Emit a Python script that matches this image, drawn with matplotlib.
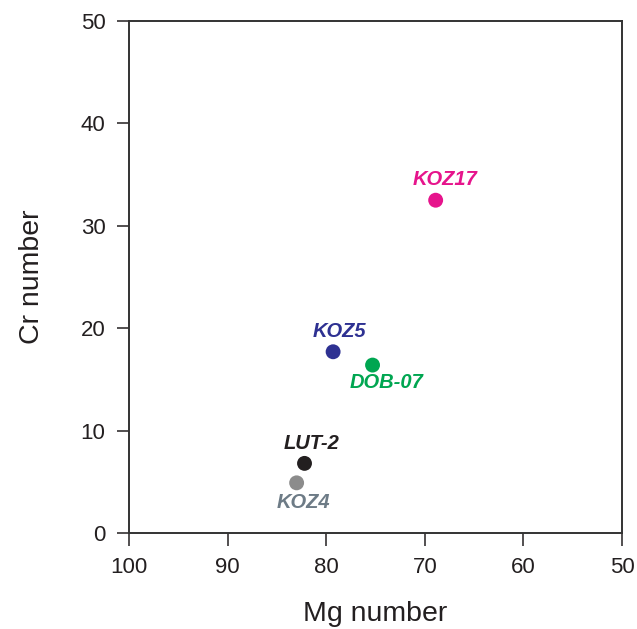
import matplotlib
matplotlib.use("Agg")
import matplotlib.pyplot as plt

plt.rcParams['font.family'] = ['Liberation Sans', 'DejaVu Sans']

# sample data
samples = ['KOZ17', 'KOZ5', 'DOB-07', 'LUT-2', 'KOZ4']
mg_number = [68.9, 79.3, 75.3, 82.2, 83.0]
cr_number = [32.5, 17.7, 16.4, 6.8, 4.9]
kleuren = ['#e6148c', '#2e3192', '#00a651', '#231f20', '#8c8c8c']
label_kleuren = ['#e6148c', '#2e3192', '#00a651', '#231f20', '#6d7b86']
# label offsets in points (dx, dy)
offsets = [(6.5, 15), (4.5, 14.5), (10, -12.5), (5, 14.5), (5, -14.5)]

fig = plt.figure(figsize=(6.37, 6.29), dpi=100)
ax = fig.add_axes([0.2025, 0.1526, 0.774, 0.814])

ax.scatter(mg_number, cr_number, s=115, c=kleuren, zorder=3, linewidths=0)
for naam, x, y, kl, off in zip(samples, mg_number, cr_number, label_kleuren, offsets):
    ax.annotate(naam, (x, y), xytext=off, textcoords='offset points',
                ha='center', va='center', color=kl, fontsize=14.5,
                fontweight='bold', fontstyle='italic')

ax.set_xlim(100, 50)
ax.set_ylim(0, 50)
ax.set_xticks([100, 90, 80, 70, 60, 50])
ax.set_yticks([0, 10, 20, 30, 40, 50])
for s in ax.spines.values():
    s.set_linewidth(1.4)
    s.set_color('#333333')
ax.tick_params(direction='out', length=9, width=1.1, labelsize=16,
               color='#231f20', labelcolor='#231f20', pad=8)
ax.set_xlabel('Mg number', fontsize=20.5, color='#231f20')
ax.set_ylabel('Cr number', fontsize=20.5, color='#231f20')
ax.xaxis.set_label_coords(0.5, -0.133)
ax.yaxis.set_label_coords(-0.17, 0.5)

plt.savefig('out.png', dpi=100)
